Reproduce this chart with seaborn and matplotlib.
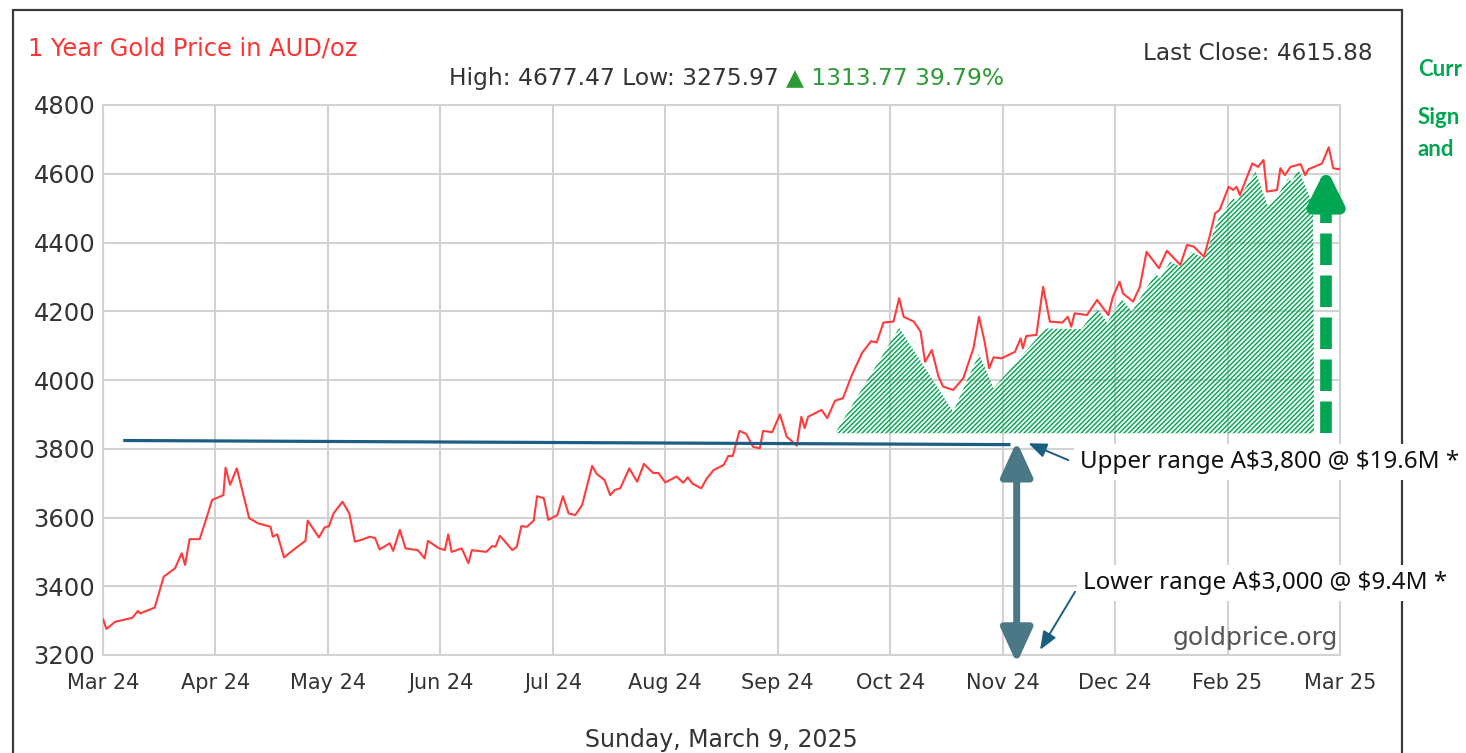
import numpy as np
import pandas as pd
import matplotlib
matplotlib.use("Agg")
import matplotlib.pyplot as plt
from matplotlib.patches import Rectangle
import seaborn as sns

# Month slots on the source axis (0 = Mar 24 ... 11 = Mar 25, evenly spaced as drawn)
month_labels = ['Mar 24', 'Apr 24', 'May 24', 'Jun 24', 'Jul 24', 'Aug 24',
                'Sep 24', 'Oct 24', 'Nov 24', 'Dec 24', 'Feb 25', 'Mar 25']
y_ticks = [3200, 3400, 3600, 3800, 4000, 4200, 4400, 4600, 4800]

# Gold price in AUD/oz
price_pos = [0.00, 0.03, 0.11, 0.26, 0.31, 0.33, 0.46, 0.54, 0.64, 0.70, 0.73, 0.77, 0.86, 0.92, 0.97,
             1.07, 1.09, 1.13, 1.19, 1.30, 1.38, 1.49, 1.51, 1.55, 1.61, 1.71, 1.80, 1.82, 1.92, 1.97,
             2.01, 2.05, 2.13, 2.19, 2.24, 2.30, 2.37, 2.42, 2.46, 2.55, 2.58, 2.64, 2.69, 2.80, 2.86,
             2.89, 2.98, 3.04, 3.07, 3.10, 3.19, 3.25, 3.28, 3.41, 3.46, 3.49, 3.53, 3.64, 3.68, 3.72,
             3.77, 3.83, 3.86, 3.92, 3.96, 4.04, 4.09, 4.14, 4.20, 4.26, 4.35, 4.39, 4.46, 4.51, 4.55,
             4.60, 4.68, 4.75, 4.81, 4.89, 4.94, 5.00, 5.10, 5.16, 5.20, 5.24, 5.32, 5.37, 5.43, 5.52,
             5.56, 5.60, 5.66, 5.72, 5.78, 5.84, 5.87, 5.95, 6.02, 6.08, 6.17, 6.21, 6.24, 6.27, 6.39,
             6.44, 6.51, 6.58, 6.66, 6.75, 6.83, 6.88, 6.94, 7.03, 7.08, 7.12, 7.21, 7.27, 7.31, 7.37,
             7.43, 7.47, 7.56, 7.65, 7.74, 7.79, 7.84, 7.88, 7.92, 7.99, 8.11, 8.16, 8.18, 8.21, 8.30,
             8.36, 8.42, 8.53, 8.58, 8.61, 8.64, 8.75, 8.84, 8.94, 8.98, 9.04, 9.07, 9.16, 9.22, 9.28,
             9.39, 9.46, 9.58, 9.64, 9.70, 9.79, 9.84, 9.89, 9.93, 10.01, 10.05, 10.08, 10.11, 10.22, 10.27,
             10.32, 10.35, 10.44, 10.47, 10.51, 10.56, 10.65, 10.69, 10.72, 10.84, 10.90, 10.94, 10.99, 11.00]
price_aud = [3305, 3276, 3297, 3308, 3328, 3321, 3338, 3428, 3452, 3496, 3462, 3537, 3537, 3598, 3651,
             3665, 3745, 3695, 3743, 3598, 3583, 3573, 3544, 3551, 3484, 3510, 3532, 3591, 3542, 3571,
             3575, 3612, 3646, 3612, 3530, 3535, 3544, 3540, 3507, 3525, 3503, 3564, 3510, 3505, 3481,
             3532, 3512, 3505, 3551, 3500, 3510, 3467, 3505, 3500, 3517, 3515, 3547, 3505, 3515, 3575,
             3573, 3591, 3662, 3656, 3593, 3607, 3662, 3612, 3607, 3636, 3750, 3727, 3709, 3665, 3680,
             3685, 3743, 3704, 3756, 3730, 3729, 3702, 3719, 3701, 3717, 3699, 3685, 3714, 3738, 3753,
             3779, 3779, 3852, 3843, 3806, 3801, 3852, 3848, 3900, 3835, 3809, 3893, 3860, 3893, 3913,
             3889, 3940, 3947, 4015, 4079, 4113, 4109, 4167, 4170, 4238, 4184, 4170, 4141, 4053, 4087,
             4010, 3981, 3971, 4005, 4092, 4184, 4111, 4034, 4066, 4063, 4082, 4121, 4092, 4128, 4131,
             4271, 4170, 4167, 4184, 4155, 4194, 4189, 4233, 4189, 4242, 4286, 4252, 4228, 4271, 4373,
             4325, 4376, 4335, 4393, 4388, 4359, 4417, 4485, 4495, 4562, 4553, 4562, 4538, 4630, 4620,
             4640, 4548, 4553, 4616, 4596, 4620, 4628, 4596, 4613, 4630, 4677, 4616, 4613, 4616]

# Green hatched zone (price above the upper range)
hatch_pos = [6.51, 7.08, 7.56, 7.79, 7.92, 8.38, 8.70, 8.84, 8.93, 9.06, 9.15, 9.36, 9.40, 9.49, 9.58,
             9.68, 9.79, 9.83, 9.92, 10.05, 10.08, 10.25, 10.36, 10.44, 10.54, 10.57, 10.63, 10.76, 10.77]
hatch_top = [3845, 4152, 3908, 4076, 3976, 4150, 4148, 4209, 4167, 4235, 4199, 4310, 4296, 4344, 4330,
             4373, 4354, 4388, 4470, 4529, 4519, 4606, 4504, 4533, 4587, 4577, 4613, 4509, 3845]
hatch_base = 3845

# Upper range line
upper_pos = [0.18, 8.07]
upper_val = [3824, 3812]

green = '#00a651'
red = '#ff3b3b'
navy = '#1b5e83'
teal = '#4b7886'
grid_c = '#d2d2d2'
text_c = '#333333'

sns.set_style('white')
plt.rcParams['font.family'] = ['DejaVu Sans']
plt.rcParams['hatch.linewidth'] = 1.05

fig = plt.figure(figsize=(14.66, 7.53), dpi=100)
ax = fig.add_axes([103 / 1466, 1 - 655 / 753, (1340 - 103) / 1466, (655 - 105) / 753])

# Hatched area
ax.fill_between(hatch_pos, hatch_base, hatch_top, facecolor='none', edgecolor=green,
                hatch='///////', linewidth=0, zorder=2)

# Price line
df = pd.DataFrame({'pos': price_pos, 'price': price_aud})
sns.lineplot(data=df, x='pos', y='price', ax=ax, color=red, linewidth=1.5,
             estimator=None, sort=False, zorder=4)

# Upper range line
ax.plot(upper_pos, upper_val, color=navy, linewidth=2.3, zorder=5, solid_capstyle='butt')

# Green dashed arrow up to last close
ax.plot([10.876, 10.876], [hatch_base, 4520], color=green, linewidth=8.4,
        linestyle=(0, (2.7, 0.9)), zorder=5)
ax.annotate('', xy=(10.876, 4617), xytext=(10.876, 4515),
            arrowprops=dict(arrowstyle='-|>,head_length=1.0,head_width=0.5', mutation_scale=20,
                            color=green, lw=8.4, shrinkA=0, shrinkB=0), zorder=6)

# Double arrow between the ranges
ax.annotate('', xy=(8.125, 3176), xytext=(8.125, 3821), annotation_clip=False,
            arrowprops=dict(arrowstyle='<|-|>,head_length=1.05,head_width=0.48', mutation_scale=20,
                            color=teal, lw=5.0, shrinkA=0, shrinkB=0), zorder=6)

# Thin pointer arrows and labels
ax.annotate('', xy=(8.229, 3816), xytext=(8.584, 3767), annotation_clip=False,
            arrowprops=dict(arrowstyle='-|>,head_length=0.55,head_width=0.22', mutation_scale=20,
                            color=navy, lw=1.4, shrinkA=0, shrinkB=0), zorder=6)
ax.annotate('', xy=(8.333, 3215), xytext=(8.644, 3384), annotation_clip=False,
            arrowprops=dict(arrowstyle='-|>,head_length=0.55,head_width=0.22', mutation_scale=20,
                            color=navy, lw=1.4, shrinkA=0, shrinkB=0), zorder=6)
label_box = dict(facecolor='white', edgecolor='none', boxstyle='square,pad=0.25')
ax.text(8.688, 3761, 'Upper range A\\$3,800 @ \\$19.6M *', ha='left', va='center', fontsize=17.4,
        family=['Noto Sans', 'DejaVu Sans'], color='#111111', zorder=7, bbox=label_box)
ax.text(8.715, 3409, 'Lower range A\\$3,000 @ \\$9.4M *', ha='left', va='center', fontsize=17.4,
        family=['Noto Sans', 'DejaVu Sans'], color='#111111', zorder=7, bbox=label_box)

# Axes styling
ax.set_xlim(0, 11)
ax.set_ylim(3200, 4800)
ax.set_xticks(range(len(month_labels)))
ax.set_xticklabels(month_labels)
ax.set_yticks(y_ticks)
ax.set_xlabel('')
ax.set_ylabel('')
ax.grid(True, color=grid_c, linewidth=1.5, zorder=0)
ax.set_axisbelow(True)
for s in ax.spines.values():
    s.set_color(grid_c)
    s.set_linewidth(1.5)
ax.tick_params(axis='x', length=7, width=1.2, color=grid_c, pad=6, labelsize=15, labelcolor=text_c)
ax.tick_params(axis='y', length=0, pad=5.5, labelsize=17.5, labelcolor=text_c)

# Header texts
fig.text(28 / 1466, 1 - 48 / 753, '1 Year Gold Price in AUD/oz', color='#ff3333', fontsize=17.4,
         ha='left', va='center')
fig.text(779 / 1466, 1 - 78 / 753, 'High: 4677.47 Low: 3275.97', color=text_c, fontsize=16.8,
         ha='right', va='center')
fig.text(786 / 1466, 1 - 78 / 753, '\u25b2 1313.77 39.79%', color='#2e9a35', fontsize=16.8,
         ha='left', va='center')
fig.text(1373 / 1466, 1 - 53 / 753, 'Last Close: 4615.88', color=text_c, fontsize=16.7,
         ha='right', va='center')
fig.text(1338 / 1466, 1 - 638 / 753, 'goldprice.org', color='#555555', fontsize=18,
         ha='right', va='center')
fig.text(721 / 1466, 1 - 740 / 753, 'Sunday, March 9, 2025', color=text_c, fontsize=17,
         ha='center', va='center')

# Side notes (only their start is visible at the page edge in the source)
for txt, ypx in [('Curr', 70), ('Sign', 117), ('and', 150)]:
    fig.text(1418 / 1466, 1 - ypx / 753, txt, color=green, fontsize=16, fontweight='bold',
             family=['Lato', 'DejaVu Sans'], ha='left', va='center')

# Outer frame (drawn under the range labels, which sit on white boxes)
ax.set_zorder(2)
fig.patches.append(Rectangle((13 / 1466, -0.02), (1402 - 13) / 1466, 1.02 - 10 / 753,
                             transform=fig.transFigure, fill=False, edgecolor='#3a3a3a',
                             linewidth=1.6, zorder=1))

fig.savefig('out.png', dpi=100)
